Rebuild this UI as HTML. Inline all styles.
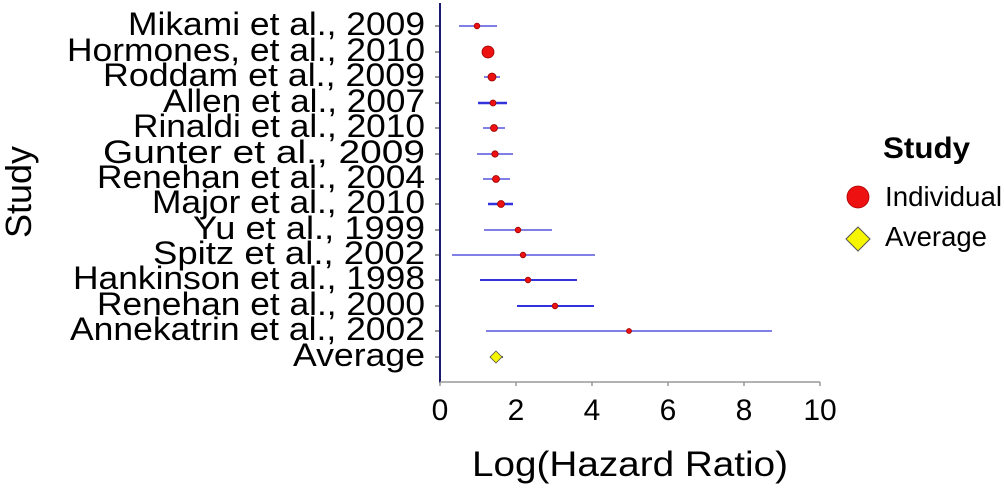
<!DOCTYPE html>
<html><head><meta charset="utf-8"><style>
html,body{margin:0;padding:0;background:#fff;}
svg{display:block;font-family:"Liberation Sans",Arial,sans-serif;}
</style></head><body>
<svg width="1004" height="489" viewBox="0 0 1004 489" xmlns="http://www.w3.org/2000/svg">
<g font-size="32" text-anchor="start" fill="#000">
<text x="128" y="35" textLength="297" lengthAdjust="spacingAndGlyphs">Mikami et al., 2009</text>
<text x="67" y="61" textLength="358" lengthAdjust="spacingAndGlyphs">Hormones, et al., 2010</text>
<text x="103" y="86" textLength="322" lengthAdjust="spacingAndGlyphs">Roddam et al., 2009</text>
<text x="163" y="112" textLength="262" lengthAdjust="spacingAndGlyphs">Allen et al., 2007</text>
<text x="133" y="137" textLength="292" lengthAdjust="spacingAndGlyphs">Rinaldi et al., 2010</text>
<text x="103" y="163" textLength="322" lengthAdjust="spacingAndGlyphs">Gunter et al., 2009</text>
<text x="97" y="188" textLength="328" lengthAdjust="spacingAndGlyphs">Renehan et al., 2004</text>
<text x="152" y="213" textLength="273" lengthAdjust="spacingAndGlyphs">Major et al., 2010</text>
<text x="193" y="239" textLength="232" lengthAdjust="spacingAndGlyphs">Yu et al., 1999</text>
<text x="153" y="264" textLength="272" lengthAdjust="spacingAndGlyphs">Spitz et al., 2002</text>
<text x="73" y="289" textLength="352" lengthAdjust="spacingAndGlyphs">Hankinson et al., 1998</text>
<text x="97" y="315" textLength="328" lengthAdjust="spacingAndGlyphs">Renehan et al., 2000</text>
<text x="70" y="340" textLength="355" lengthAdjust="spacingAndGlyphs">Annekatrin et al., 2002</text>
<text x="293" y="366" textLength="132" lengthAdjust="spacingAndGlyphs">Average</text>
</g>
<text transform="translate(31,192) rotate(-90)" font-size="36" text-anchor="middle">Study</text>
<line x1="440" y1="3" x2="440" y2="383" stroke="#1a1a6e" stroke-width="2"/>
<line x1="440" y1="382" x2="820" y2="382" stroke="#999" stroke-width="1.5"/>
<g stroke="#999" stroke-width="1.5">
<line x1="440" y1="382" x2="440" y2="386"/><line x1="516" y1="382" x2="516" y2="386"/>
<line x1="592" y1="382" x2="592" y2="386"/><line x1="668" y1="382" x2="668" y2="386"/>
<line x1="744" y1="382" x2="744" y2="386"/><line x1="820" y1="382" x2="820" y2="386"/>
</g>
<g stroke="#333" stroke-width="1">
<line x1="435" y1="26" x2="439" y2="26"/><line x1="435" y1="52" x2="439" y2="52"/>
<line x1="435" y1="77" x2="439" y2="77"/><line x1="435" y1="103" x2="439" y2="103"/>
<line x1="435" y1="128" x2="439" y2="128"/><line x1="435" y1="154" x2="439" y2="154"/>
<line x1="435" y1="179" x2="439" y2="179"/><line x1="435" y1="204" x2="439" y2="204"/>
<line x1="435" y1="230" x2="439" y2="230"/><line x1="435" y1="255" x2="439" y2="255"/>
<line x1="435" y1="280" x2="439" y2="280"/><line x1="435" y1="306" x2="439" y2="306"/>
<line x1="435" y1="331" x2="439" y2="331"/><line x1="435" y1="357" x2="439" y2="357"/>
</g>
<g font-size="30" text-anchor="middle">
<text x="440" y="420">0</text><text x="516" y="420">2</text><text x="592" y="420">4</text>
<text x="668" y="420">6</text><text x="744" y="420">8</text><text x="820" y="420">10</text>
</g>
<text x="472" y="476" font-size="35" textLength="316" lengthAdjust="spacingAndGlyphs">Log(Hazard Ratio)</text>
<g stroke="#5555dd" stroke-width="1.5">
<line x1="459" y1="26" x2="497" y2="26"/>
<line x1="483" y1="52" x2="493" y2="52"/>
<line x1="484" y1="77" x2="500" y2="77"/>
<line x1="478" y1="103" x2="507" y2="103" stroke-width="2.5" stroke="#3333dd"/>
<line x1="483" y1="128" x2="505" y2="128"/>
<line x1="477" y1="154" x2="513" y2="154"/>
<line x1="483" y1="179" x2="510" y2="179"/>
<line x1="488" y1="204" x2="513" y2="204" stroke-width="2.5" stroke="#3333dd"/>
<line x1="484" y1="230" x2="552" y2="230"/>
<line x1="452" y1="255" x2="595" y2="255"/>
<line x1="480" y1="280" x2="577" y2="280" stroke-width="2" stroke="#3333dd"/>
<line x1="517" y1="306" x2="594" y2="306" stroke-width="2" stroke="#3333dd"/>
<line x1="486" y1="331" x2="772" y2="331"/>
<line x1="490" y1="357" x2="503" y2="357" stroke="#222"/>
</g>
<g fill="#ee1111" stroke="#990000" stroke-width="0.8">
<circle cx="477" cy="26" r="2.8"/>
<circle cx="488" cy="52" r="6"/>
<circle cx="492" cy="77" r="4"/>
<circle cx="493" cy="103" r="3"/>
<circle cx="494" cy="128" r="3.5"/>
<circle cx="495" cy="154" r="3.2"/>
<circle cx="496" cy="179" r="3.5"/>
<circle cx="501" cy="204" r="3.5"/>
<circle cx="518" cy="230" r="2.8"/>
<circle cx="523" cy="255" r="2.8"/>
<circle cx="528" cy="280" r="2.8"/>
<circle cx="555" cy="306" r="2.8"/>
<circle cx="629" cy="331" r="2.5"/>
</g>
<polygon points="496,351 502,357 496,363 490,357" fill="#f5f500" stroke="#555" stroke-width="0.8"/>
<text x="883" y="158" font-size="30" font-weight="bold" textLength="87" lengthAdjust="spacingAndGlyphs">Study</text>
<circle cx="858" cy="197" r="11" fill="#ee1111" stroke="#aa0000" stroke-width="0.8"/>
<text x="885" y="206" font-size="28" textLength="117" lengthAdjust="spacingAndGlyphs">Individual</text>
<polygon points="858,227 870,239 858,251 846,239" fill="#f5f500" stroke="#555" stroke-width="1"/>
<text x="885" y="246" font-size="28" textLength="102" lengthAdjust="spacingAndGlyphs">Average</text>
</svg>
</body></html>
